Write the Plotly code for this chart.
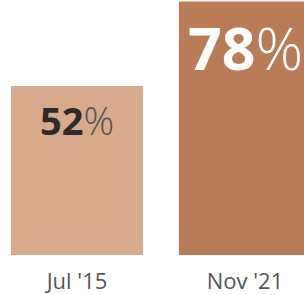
import plotly.graph_objects as go

categories = ["Jul '15", "Nov '21"]
values = [52, 78]
value_labels = ["52", "78"]

bar_colors = ["#d7aa8b", "#b97c56"]
label_colors = ["#2b2b2b", "#ffffff"]
pct_colors = ["#555555", "#ffffff"]
label_sizes = [38, 59]
label_shifts = [-6, -3]

fig = go.Figure()
fig.add_trace(go.Bar(
    x=categories, y=values, width=0.786,
    marker=dict(color=bar_colors, line=dict(width=0)),
    hoverinfo="skip",
))

for cat, v, lab, c, pc, s, sh in zip(categories, values, value_labels,
                                     label_colors, pct_colors, label_sizes, label_shifts):
    fig.add_annotation(
        x=cat, y=v, yanchor="top", xanchor="center", yshift=sh,
        text=f"<b>{lab}</b><span style='color:{pc};font-weight:300'>%</span>",
        showarrow=False,
        font=dict(family="Open Sans", size=s, color=c),
    )

fig.update_layout(
    width=304, height=295,
    margin=dict(l=0, r=0, t=0, b=40),
    paper_bgcolor="white", plot_bgcolor="white",
    showlegend=False,
    xaxis=dict(type="category", range=[-0.458, 1.351], showgrid=False,
               showline=False, zeroline=False, ticks="", ticklabelstandoff=11,
               tickfont=dict(family="Open Sans", size=22, color="#555555")),
    yaxis=dict(range=[0, 78.46], visible=False, showgrid=False, zeroline=False),
)

fig.write_html("out.html", config={"displayModeBar": False},
               post_script="document.body.style.margin='0';")
